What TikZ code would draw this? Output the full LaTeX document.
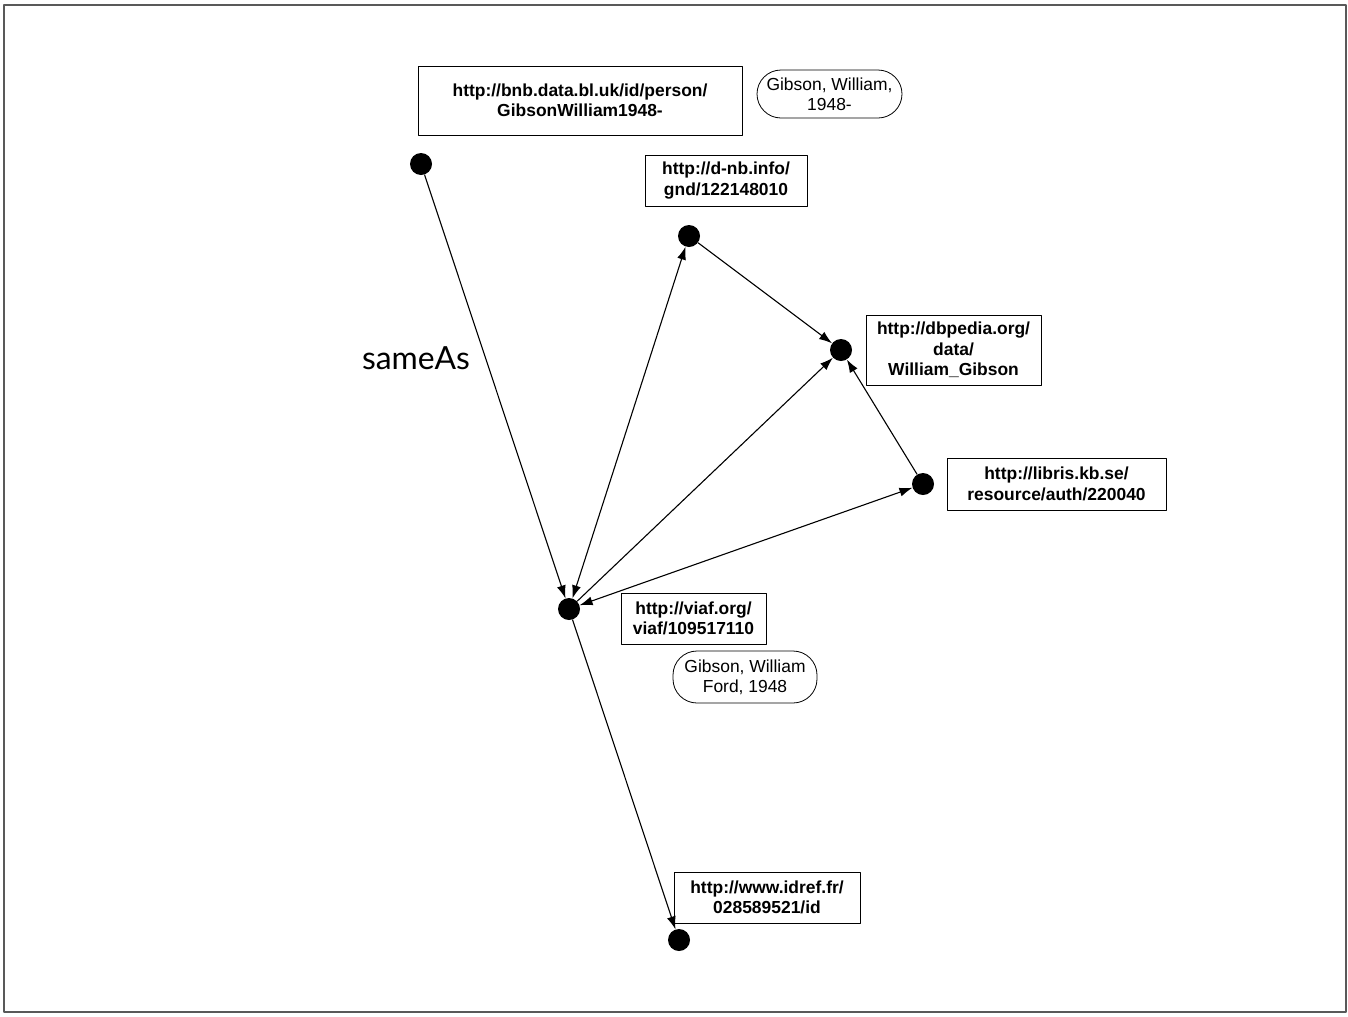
\documentclass[tikz,border=0pt]{standalone}
\usepackage{fontspec}
\setmainfont{Liberation Sans}
\newfontfamily\slidefont{Lato}
\usetikzlibrary{arrows.meta}
\begin{document}
\begin{tikzpicture}[x=1bp,y=-1bp,>={Latex[length=13bp,width=9bp]},line join=bevel,
  dot/.style={circle,fill=black,inner sep=0pt,minimum size=22bp},
  uri/.style={draw,line width=0.8bp,align=center,inner sep=0pt,font=\fontsize{17.5}{20.5}\selectfont\bfseries},
  lit/.style={draw,line width=0.8bp,rounded corners=24bp,align=center,inner sep=0pt,font=\fontsize{17.5}{20.5}\selectfont},
  edge/.style={black,line width=1.1bp}]
\useasboundingbox (0,0) rectangle (1348,1016);
\draw [gray!70!black,line width=1.4bp] (4,5) rectangle (1346,1012);
%%
\node (node_bnb) at (421,164) [dot] {};
  \node (node_dnb) at (689,236) [dot] {};
  \node (node_dbpedia) at (841,350) [dot] {};
  \node (node_libris) at (923,484) [dot] {};
  \node (node_viaf) at (569,609) [dot] {};
  \node (node_idref) at (679,940) [dot] {};
%%
\node (label_bnb) at (580,100.5) [uri,minimum width=324bp,minimum height=69bp] {http://bnb.data.bl.uk/id/person/\\GibsonWilliam1948-};
  \node (label_dnb) at (726,180.5) [uri,minimum width=162bp,minimum height=51bp] {http://d-nb.info/\\gnd/122148010};
  \node (label_dbpedia) at (953.5,350) [uri,minimum width=175bp,minimum height=70bp] {http://dbpedia.org/\\data/\\William\_Gibson};
  \node (label_libris) at (1056.5,484) [uri,minimum width=219bp,minimum height=52bp] {http://libris.kb.se/\\resource/auth/220040};
  \node (label_viaf) at (693.5,618.5) [uri,minimum width=145bp,minimum height=51bp] {http://viaf.org/\\viaf/109517110};
  \node (label_idref) at (767,897.5) [uri,minimum width=186bp,minimum height=51bp] {http://www.idref.fr/\\028589521/id};
  \node (lit_bnb) at (829.5,94) [lit,minimum width=145bp,minimum height=48bp] {Gibson, William,\\1948-};
  \node (lit_viaf) at (745,677) [lit,minimum width=144bp,minimum height=52bp] {Gibson, William\\Ford, 1948};
  \node (label_sameas) at (416,358) {\slidefont\fontsize{32}{38}\selectfont sameAs};
%%
\draw [edge,->] (node_bnb) -- (node_viaf);
  \draw [edge,<->] (node_viaf) -- (node_dnb);
  \draw [edge,->] (node_viaf) -- (node_dbpedia);
  \draw [edge,<->] (node_viaf) -- (node_libris);
  \draw [edge,->] (node_dnb) -- (node_dbpedia);
  \draw [edge,->] (node_libris) -- (node_dbpedia);
  \draw [edge,->] (node_viaf) -- (node_idref);
%
\end{tikzpicture}
\end{document}
